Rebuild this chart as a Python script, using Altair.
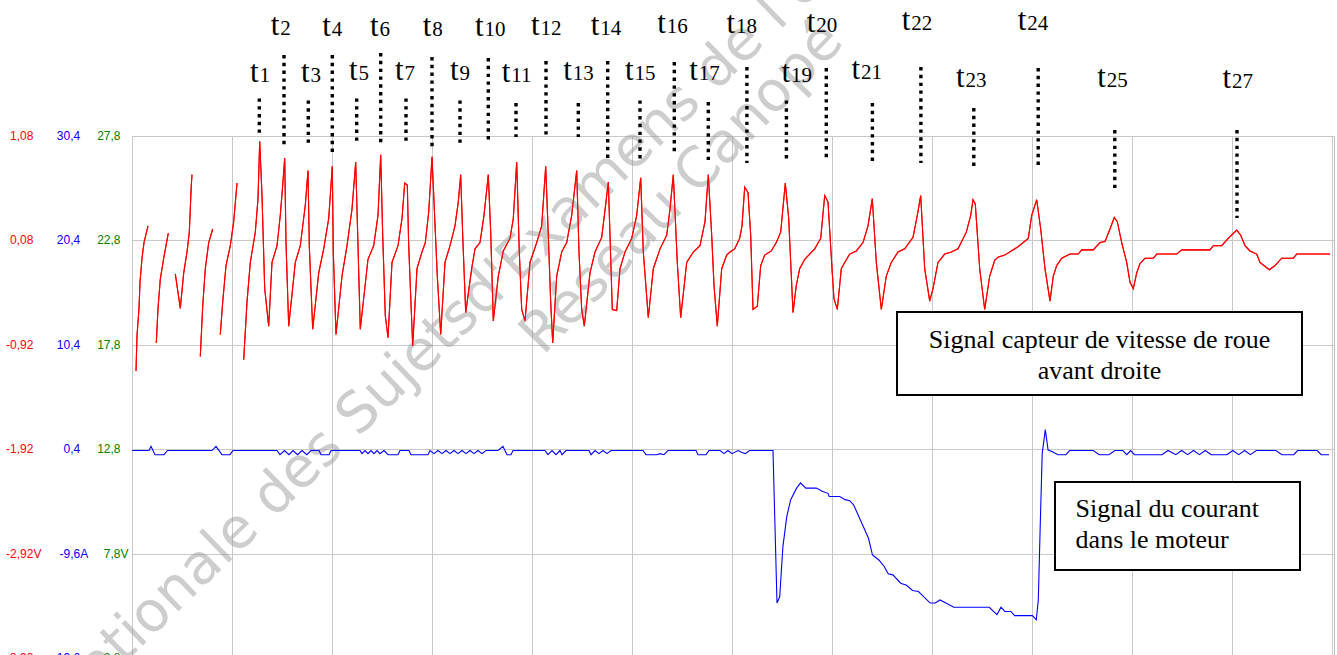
import altair as alt
import pandas as pd

# ---------------- data (time in screen divisions, red in V, blue in A) ----------------
red_s1_t = [0.04, 0.05, 0.07, 0.08, 0.10, 0.12, 0.16]
red_s1_v = [-1.17, -0.83, -0.57, -0.32, -0.09, 0.06, 0.22]
red_s2_t = [0.243, 0.26, 0.283, 0.317, 0.363]
red_s2_v = [-0.90, -0.57, -0.29, -0.09, 0.15]
red_s3_t = [0.433, 0.483, 0.517, 0.55, 0.573, 0.593, 0.60]
red_s3_v = [-0.24, -0.57, -0.23, -0.03, 0.16, 0.61, 0.71]
red_s4_t = [0.683, 0.707, 0.733, 0.767, 0.807]
red_s4_v = [-1.03, -0.55, -0.19, 0.06, 0.19]
red_s5_t = [0.883, 0.907, 0.94, 0.983, 1.017, 1.05]
red_s5_v = [-0.82, -0.51, -0.16, 0.03, 0.26, 0.63]

red_main = [
    (1.117, -1.06), (1.15, -0.51), (1.183, -0.13), (1.233, 0.16), (1.26, 0.48), (1.277, 1.03),
    (1.30, 0.51), (1.327, -0.38), (1.367, -0.74), (1.40, -0.13), (1.45, 0.03), (1.483, 0.32),
    (1.507, 0.61), (1.527, 0.87), (1.54, 0.06), (1.567, -0.74), (1.633, -0.13), (1.683, 0.03),
    (1.733, 0.42), (1.76, 0.75), (1.773, 0.03), (1.807, -0.77), (1.867, -0.23), (1.917, 0.00),
    (1.967, 0.29), (2.003, 0.79), (2.013, -0.03), (2.04, -0.82), (2.10, -0.26), (2.15, 0.03),
    (2.20, 0.38), (2.237, 0.83), (2.26, 0.03), (2.283, -0.77), (2.36, -0.10), (2.417, 0.03),
    (2.46, 0.32), (2.487, 0.90), (2.507, 0.13), (2.533, -0.64), (2.56, -0.85), (2.60, -0.13),
    (2.66, 0.03), (2.70, 0.29), (2.727, 0.63), (2.753, 0.61), (2.767, 0.03), (2.807, -0.93),
    (2.85, -0.19), (2.90, -0.03), (2.933, 0.06), (2.967, 0.35), (3.00, 0.88), (3.02, 0.45),
    (3.053, -0.26), (3.087, -0.82), (3.13, -0.13), (3.18, 0.03), (3.23, 0.22), (3.263, 0.45),
    (3.287, 0.71), (3.307, 0.13), (3.337, -0.61), (3.397, -0.19), (3.43, 0.00), (3.48, 0.06),
    (3.52, 0.32), (3.563, 0.71), (3.587, 0.16), (3.613, -0.69), (3.663, -0.26), (3.713, -0.02),
    (3.78, 0.10), (3.813, 0.29), (3.847, 0.83), (3.873, -0.03), (3.897, -0.58), (3.93, -0.69),
    (3.98, -0.13), (4.047, 0.06), (4.097, 0.22), (4.137, 0.79), (4.163, 0.13), (4.187, -0.51),
    (4.207, -0.90), (4.247, -0.26), (4.297, -0.03), (4.347, 0.06), (4.397, 0.32), (4.447, 0.75),
    (4.47, -0.03), (4.497, -0.58), (4.523, -0.74), (4.58, -0.23), (4.63, -0.03), (4.697, 0.11),
    (4.74, 0.45), (4.763, 0.64), (4.78, 0.13), (4.803, -0.58), (4.847, -0.59), (4.88, -0.19),
    (4.93, -0.03), (4.997, 0.10), (5.047, 0.32), (5.087, 0.68), (5.113, -0.03), (5.163, -0.66),
    (5.213, -0.19), (5.28, 0.00), (5.347, 0.13), (5.38, 0.38), (5.413, 0.71), (5.453, -0.13),
    (5.487, -0.66), (5.547, -0.13), (5.613, -0.03), (5.68, 0.03), (5.73, 0.26), (5.763, 0.71),
    (5.797, 0.13), (5.82, -0.35), (5.853, -0.74), (5.897, -0.19), (5.947, -0.06), (5.98, -0.03),
    (6.027, 0.00), (6.077, 0.10), (6.10, 0.22), (6.127, 0.59), (6.16, 0.54), (6.187, 0.13),
    (6.21, -0.58), (6.253, -0.55), (6.287, -0.16), (6.327, -0.06), (6.393, -0.02), (6.443, 0.06),
    (6.487, 0.16), (6.533, 0.63), (6.567, 0.29), (6.61, -0.61), (6.643, -0.35), (6.677, -0.19),
    (6.727, -0.10), (6.827, 0.00), (6.887, 0.10), (6.927, 0.51), (6.96, 0.45), (7.00, -0.19),
    (7.02, -0.48), (7.053, -0.58), (7.093, -0.19), (7.127, -0.13), (7.177, -0.05), (7.243, -0.02),
    (7.31, 0.06), (7.36, 0.22), (7.403, 0.48), (7.443, -0.13), (7.493, -0.58), (7.543, -0.26),
    (7.593, -0.13), (7.66, -0.03), (7.727, 0.00), (7.81, 0.11), (7.853, 0.32), (7.887, 0.51),
    (7.927, -0.19), (7.977, -0.50), (8.01, -0.38), (8.06, -0.13), (8.127, -0.05), (8.193, -0.03),
    (8.26, 0.00), (8.343, 0.16), (8.387, 0.32), (8.41, 0.47), (8.433, 0.43), (8.477, -0.19),
    (8.527, -0.58), (8.577, -0.26), (8.627, -0.11), (8.66, -0.08), (8.727, -0.06), (8.793, -0.02),
    (8.86, 0.02), (8.963, 0.10), (8.997, 0.32), (9.047, 0.47), (9.087, 0.19), (9.13, -0.19),
    (9.18, -0.50), (9.213, -0.26), (9.247, -0.16), (9.297, -0.09), (9.38, -0.05), (9.463, -0.05),
    (9.497, -0.01), (9.613, -0.01), (9.68, 0.06), (9.73, 0.07), (9.78, 0.19), (9.823, 0.30),
    (9.853, 0.26), (9.897, 0.06), (9.947, -0.13), (9.98, -0.32), (10.013, -0.38), (10.047, -0.23),
    (10.08, -0.14), (10.13, -0.09), (10.213, -0.09), (10.247, -0.05), (10.447, -0.05), (10.497, -0.01),
    (10.78, -0.01), (10.813, 0.03), (10.897, 0.03), (10.963, 0.10), (11.047, 0.18), (11.087, 0.13),
    (11.13, 0.03), (11.18, -0.02), (11.247, -0.05), (11.28, -0.13), (11.373, -0.20), (11.43, -0.16),
    (11.497, -0.09), (11.613, -0.09), (11.647, -0.05), (11.98, -0.05),
]

blue_current = [
    (0.00, 0.3), (0.17, 0.3), (0.19, 0.7), (0.23, -0.1), (0.32, -0.1), (0.355, 0.3),
    (0.80, 0.3), (0.84, 0.7), (0.90, -0.1), (0.98, -0.1), (1.01, 0.3),
    (1.45, 0.3), (1.48, -0.1), (1.525, 0.3), (1.57, -0.1), (1.61, 0.3), (1.656, -0.1), (1.70, 0.3),
    (1.748, -0.1), (1.79, 0.3), (1.87, 0.3), (1.89, -0.1), (1.97, -0.1), (1.99, 0.3),
    (2.28, 0.3), (2.30, 0.0), (2.33, 0.3), (2.36, 0.0), (2.39, 0.3), (2.42, 0.0), (2.45, 0.3),
    (2.48, 0.0), (2.52, 0.3), (2.56, -0.1), (2.66, -0.1), (2.68, 0.3), (2.77, 0.3), (2.79, -0.1),
    (2.96, -0.1), (2.98, 0.3), (3.02, 0.0), (3.06, 0.3), (3.10, 0.0), (3.14, 0.3), (3.18, 0.0),
    (3.22, 0.3), (3.26, 0.0), (3.30, 0.3), (3.34, 0.0), (3.38, 0.3), (3.42, 0.0), (3.46, 0.3),
    (3.50, 0.0), (3.54, 0.3), (3.66, 0.3), (3.71, 0.7), (3.75, -0.1), (3.79, -0.1), (3.81, 0.3),
    (4.13, 0.3), (4.16, -0.1), (4.20, 0.3), (4.24, -0.1), (4.28, 0.3), (4.30, -0.1), (4.34, 0.3),
    (4.57, 0.3), (4.59, -0.1), (4.63, 0.3), (4.67, 0.0), (4.71, 0.3), (4.75, 0.0), (4.79, 0.3),
    (5.11, 0.3), (5.14, -0.1), (5.25, -0.1), (5.28, 0.0), (5.32, -0.1), (5.36, 0.3),
    (5.64, 0.3), (5.66, -0.1), (5.74, -0.1), (5.77, 0.3),
    (5.88, 0.3), (5.92, 0.0), (5.96, 0.3), (6.00, 0.0), (6.06, 0.3), (6.10, 0.1), (6.135, 0.0),
    (6.175, 0.3), (6.41, 0.3), (6.45, -14.3), (6.477, -13.7), (6.509, -8.9), (6.548, -6.0),
    (6.587, -4.4), (6.646, -3.3), (6.685, -2.8), (6.737, -3.3), (6.843, -3.3), (6.902, -3.6),
    (6.96, -3.8), (6.972, -4.1), (7.078, -4.1), (7.13, -4.4), (7.177, -4.5), (7.216, -4.9),
    (7.314, -7.0), (7.365, -8.1), (7.405, -9.7), (7.471, -10.2), (7.522, -10.8), (7.562, -11.5),
    (7.609, -11.6), (7.687, -12.4), (7.746, -12.6), (7.805, -13.1), (7.864, -13.2), (7.982, -14.3),
    (8.033, -14.3), (8.08, -14.0), (8.139, -14.3), (8.218, -14.7), (8.572, -14.7), (8.65, -15.4),
    (8.69, -14.7), (8.729, -15.1), (8.788, -15.1), (8.827, -15.5), (9.004, -15.5), (9.043, -15.9),
    (9.063, -14.0), (9.082, -7.0), (9.102, 0.0), (9.133, 2.3), (9.161, 0.35), (9.20, 0.2),
    (9.259, -0.1), (9.338, -0.1), (9.377, 0.3), (9.613, 0.3), (9.672, -0.1), (9.77, -0.1),
    (9.829, 0.3), (9.908, 0.3), (9.947, -0.1), (9.986, 0.3), (10.025, -0.1), (10.30, -0.1),
    (10.36, 0.3), (10.438, -0.1), (10.497, 0.3), (10.556, -0.1), (10.615, 0.3), (10.674, -0.1),
    (10.733, 0.3), (10.792, -0.1), (10.949, -0.1), (11.008, 0.3), (11.067, -0.1), (11.126, 0.3),
    (11.184, -0.1), (11.243, 0.3), (11.44, 0.3), (11.499, -0.1), (11.617, -0.1), (11.656, 0.3),
    (11.852, 0.3), (11.892, -0.1), (11.97, -0.1),
]

# axis labels (three channels)
grid_v = [1.08, 0.08, -0.92, -1.92, -2.92, -3.92]
red_labels = ["1,08", "0,08", "-0,92", "-1,92", "-2,92", "-3,92"]
blue_labels = ["30,4", "20,4", "10,4", "0,4", "-9,6", "-19,6"]
green_labels = ["27,8", "22,8", "17,8", "12,8", "7,8", "2,8"]
unit_row = -2.92
grid_t = list(range(13))

# instants t1..t27 (marker time, dotted extent in V units, label anchor)
mark_num = [1, 2, 3, 4, 5, 6, 7, 8, 9, 10, 11, 12, 13, 14, 15, 16, 17, 18, 19, 20, 21, 22, 23, 24, 25, 27]
mark_t = [1.273, 1.52, 1.763, 2.003, 2.247, 2.487, 2.74, 3.00, 3.28, 3.563, 3.84, 4.14, 4.463,
          4.757, 5.08, 5.423, 5.763, 6.149, 6.544, 6.943, 7.404, 7.889, 8.418, 9.062, 9.828, 11.05]
mark_top = [1.44, 1.855, 1.42, 1.855, 1.44, 1.874, 1.44, 1.836, 1.42, 1.826, 1.396, 1.798, 1.396,
            1.798, 1.42, 1.788, 1.405, 1.74, 1.42, 1.731, 1.396, 1.74, 1.348, 1.731, 1.137, 1.137]
mark_bot = [1.11, 0.975, 1.013, 0.90, 1.023, 0.994, 1.023, 0.975, 1.013, 1.023, 1.07, 1.08, 1.07,
            0.85, 0.85, 0.917, 0.831, 0.822, 0.85, 0.85, 0.831, 0.822, 0.774, 0.774, 0.563, 0.295]
label_t = [1.18, 1.387, 1.69, 1.903, 2.17, 2.38, 2.63, 2.907, 3.18, 3.43, 3.697, 3.99, 4.313,
           4.587, 4.93, 5.253, 5.573, 5.945, 6.495, 6.748, 7.196, 7.697, 8.24, 8.858, 9.653, 10.904]
label_v = [1.60, 2.05, 1.60, 2.04, 1.62, 2.04, 1.62, 2.04, 1.62, 2.04, 1.60, 2.05, 1.62,
           2.05, 1.62, 2.07, 1.62, 2.07, 1.60, 2.08, 1.63, 2.09, 1.55, 2.09, 1.55, 1.54]

box1_lines = ["Signal capteur de vitesse de roue", "avant droite"]
box2_lines = ["Signal du courant", "dans le moteur"]
watermark_a = "Banque Nationale des Sujets"
watermark_b = " d'Examens de l'enseignement professionnel"
watermark_c = "Réseau Canopé"

# ---------------- tables ----------------
rows = []
for seg, (ts, vs) in enumerate([(red_s1_t, red_s1_v), (red_s2_t, red_s2_v), (red_s3_t, red_s3_v),
                                (red_s4_t, red_s4_v), (red_s5_t, red_s5_v)]):
    for i, (t, v) in enumerate(zip(ts, vs)):
        rows.append({"t": t, "v": v, "seg": seg, "i": i})
for i, (t, v) in enumerate(red_main):
    rows.append({"t": t, "v": v, "seg": 9, "i": i})
red_df = pd.DataFrame(rows)
blue_df = pd.DataFrame([{"t": t, "A": a, "i": i} for i, (t, a) in enumerate(blue_current)])
lab_df = pd.DataFrame({"v": grid_v, "r": red_labels, "b": blue_labels, "g": green_labels})
unit_df = pd.DataFrame({"v": [unit_row]})
mark_df = pd.DataFrame({"t": mark_t, "top": mark_top, "bot": mark_bot})
tl_df = pd.DataFrame({"t": label_t, "v": label_v, "n": [str(n) for n in mark_num]})
one = pd.DataFrame({"k": [0]})

xs = alt.Scale(domain=[0, 12.02], nice=False, zero=False)
ys = alt.Scale(domain=[-3.887, 1.08], nice=False, zero=False)
ax_x = alt.Axis(values=grid_t, grid=True, labels=False, ticks=False, domain=False, title=None,
                gridColor="#c8c8c8", gridWidth=1)
ax_y = alt.Axis(values=grid_v[:5], grid=True, labels=False, ticks=False, domain=False, title=None,
                gridColor="#c8c8c8", gridWidth=1)
X = lambda f: alt.X(f, type="quantitative", scale=xs, axis=ax_x)
Y = lambda f: alt.Y(f, type="quantitative", scale=ys, axis=ax_y)

red = alt.Chart(red_df).mark_line(color="#ff0000", strokeWidth=1.1).encode(
    x=X("t"), y=Y("v"), detail="seg:N", order="i:Q")

blue = alt.Chart(blue_df).transform_calculate(
    vb="-1.92 + (datum.A - 0.4) / 10").mark_line(color="#0000ff", strokeWidth=1.1).encode(
    x=X("t"), y=Y("vb"), order="i:Q")

lab_font = dict(font="Liberation Sans", fontSize=12, baseline="middle")
red_lab = alt.Chart(lab_df).mark_text(align="right", color="#ff0000", **lab_font).encode(
    x=alt.value(-98.6), y=Y("v"), text="r:N")
blue_lab = alt.Chart(lab_df).mark_text(align="right", color="#0000ff", **lab_font).encode(
    x=alt.value(-51.8), y=Y("v"), text="b:N")
green_lab = alt.Chart(lab_df).mark_text(align="right", color="#008000", **lab_font).encode(
    x=alt.value(-11.5), y=Y("v"), text="g:N")
u_r = alt.Chart(unit_df).mark_text(align="left", color="#ff0000", **lab_font).encode(
    x=alt.value(-98.6), y=Y("v"), text=alt.value("V"))
u_b = alt.Chart(unit_df).mark_text(align="left", color="#0000ff", **lab_font).encode(
    x=alt.value(-51.8), y=Y("v"), text=alt.value("A"))
u_g = alt.Chart(unit_df).mark_text(align="left", color="#008000", **lab_font).encode(
    x=alt.value(-11.5), y=Y("v"), text=alt.value("V"))

dots = alt.Chart(mark_df).mark_rule(color="black", strokeWidth=3.4, strokeDash=[3.4, 4.4],
                                    strokeCap="butt").encode(
    x=X("t"), y=Y("top"), y2="bot")

t_letter = alt.Chart(tl_df).mark_text(font="Liberation Serif", fontSize=31, align="left",
                                      baseline="alphabetic", color="black").encode(
    x=X("t"), y=Y("v"), text=alt.value("t"))
t_num = alt.Chart(tl_df).mark_text(font="Liberation Serif", fontSize=21, align="left",
                                   baseline="alphabetic", color="black", dx=9.5).encode(
    x=X("t"), y=Y("v"), text="n:N")

wm_style = dict(font="DejaVu Sans", fontSize=56, color="#9c9c9c", opacity=0.5, baseline="middle")
wm1 = alt.Chart(one).mark_text(angle=316, align="right", **wm_style).encode(
    x=alt.value(338), y=alt.value(170), text=alt.value(watermark_a))
wm2 = alt.Chart(one).mark_text(angle=316, align="left", **wm_style).encode(
    x=alt.value(338), y=alt.value(170), text=alt.value(watermark_b))
wm3 = alt.Chart(one).mark_text(angle=314, align="center", **wm_style).encode(
    x=alt.value(550), y=alt.value(52), text=alt.value(watermark_c))

box_style = dict(fill="white", stroke="black", strokeWidth=2)
box1 = alt.Chart(one).mark_rect(**box_style).encode(
    x=alt.value(765), x2=alt.value(1170), y=alt.value(176), y2=alt.value(259))
box2 = alt.Chart(one).mark_rect(**box_style).encode(
    x=alt.value(923), x2=alt.value(1168), y=alt.value(346), y2=alt.value(434))
bt = dict(font="Liberation Serif", fontSize=26, color="black", baseline="alphabetic")
b1a = alt.Chart(one).mark_text(align="center", **bt).encode(
    x=alt.value(967.5), y=alt.value(212), text=alt.value(box1_lines[0]))
b1b = alt.Chart(one).mark_text(align="center", **bt).encode(
    x=alt.value(967.5), y=alt.value(243), text=alt.value(box1_lines[1]))
b2a = alt.Chart(one).mark_text(align="left", **bt).encode(
    x=alt.value(943.6), y=alt.value(381), text=alt.value(box2_lines[0]))
b2b = alt.Chart(one).mark_text(align="left", **bt).encode(
    x=alt.value(943.6), y=alt.value(412), text=alt.value(box2_lines[1]))

chart = alt.layer(
    red, wm1, wm2, wm3, red, blue, red_lab, blue_lab, green_lab, u_r, u_b, u_g,
    dots, t_letter, t_num, box1, box2, b1a, b1b, b2a, b2b
).properties(
    width=1202, height=519,
    autosize=alt.AutoSizeParams(type="none"),
    padding={"left": 132, "top": 136, "right": 3, "bottom": 0},
    background="white",
).configure_view(stroke="#c0c0c0", strokeWidth=1)

chart.save("out.html", embed_options={"renderer": "svg", "actions": False})
